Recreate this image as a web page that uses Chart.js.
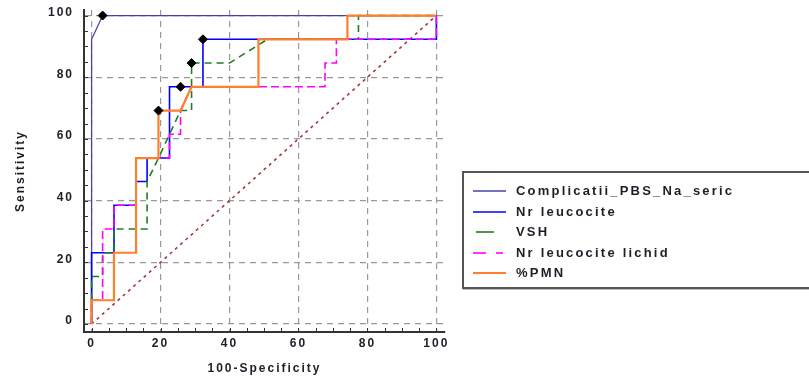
<!DOCTYPE html>
<html>
<head>
<meta charset="utf-8">
<script src="https://cdn.jsdelivr.net/npm/chart.js@4.4.0/dist/chart.umd.min.js"></script>
<style>
html,body{margin:0;padding:0;background:#fff;overflow:hidden}
#wrap{position:relative;width:809px;height:379px}
#c{position:absolute;left:0;top:0}
#legend{position:absolute;left:462px;top:171px;width:370px;height:118px;border:2px solid #555;box-sizing:border-box;box-shadow:1px 1px 0 #bbb;
  font:bold 13px "Liberation Sans",Arial,sans-serif;letter-spacing:2.2px;color:#1e1e28}
.item{position:absolute;left:0;width:100%;height:20px}
.item svg{position:absolute;left:9px;top:8px}
.item span{position:absolute;left:52px;top:1px;white-space:nowrap;line-height:18px}
</style>
</head>
<body>
<div id="wrap">
<canvas id="c" width="809" height="379"></canvas>
<div id="legend"></div>
</div>
<script>
// ---- data (x = 100-Specificity, y = Sensitivity) ----
const seriesNames = ["Complicatii_PBS_Na_seric", "Nr leucocite", "VSH", "Nr leucocite lichid", "%PMN"];

const complicatiiX = [0, 0, 3.2, 100];
const complicatiiY = [0, 92.3, 100, 100];

const leucociteX = [0, 0, 6.5, 6.5, 12.9, 12.9, 16.1, 16.1, 22.6, 22.6, 32.3, 32.3, 100, 100];
const leucociteY = [0, 23.1, 23.1, 38.5, 38.5, 46.2, 46.2, 53.8, 53.8, 76.9, 76.9, 92.3, 92.3, 100];

const vshX = [0, 0, 3.2, 3.2, 6.5, 6.5, 16.1, 16.1, 19.4, 22.6, 25.8, 29, 29, 40, 51, 77.4, 77.4, 100];
const vshY = [0, 15.4, 15.4, 23.1, 23.1, 30.8, 30.8, 46.2, 53.8, 61.5, 69.2, 69.2, 84.6, 84.6, 92.3, 92.3, 100, 100];

const lichidX = [0, 0, 3.2, 3.2, 6.5, 6.5, 12.9, 12.9, 22.6, 22.6, 25.8, 25.8, 29, 67.7, 67.7, 71, 71, 100, 100];
const lichidY = [0, 7.7, 7.7, 30.8, 30.8, 38.5, 38.5, 53.8, 53.8, 61.5, 61.5, 69.2, 76.9, 76.9, 84.6, 84.6, 92.3, 92.3, 100];

const pmnX = [0, 0, 6.5, 6.5, 12.9, 12.9, 19.4, 19.4, 25.8, 29, 48.4, 48.4, 74.2, 74.2, 100];
const pmnY = [0, 7.7, 7.7, 23.1, 23.1, 53.8, 53.8, 69.2, 69.2, 76.9, 76.9, 92.3, 92.3, 100, 100];

const criterionX = [3.2, 32.3, 29, 25.8, 19.4];
const criterionY = [100, 92.3, 84.6, 76.9, 69.2];

const diagonalX = [0, 100];
const diagonalY = [0, 100];

const majorTicks = [0, 20, 40, 60, 80, 100];
const minorTicks = [0, 5, 10, 15, 20, 25, 30, 35, 40, 45, 50, 55, 60, 65, 70, 75, 80, 85, 90, 95, 100];

// ---- styles ----
const colors = ["#4444aa", "#0000ff", "#1f7f1f", "#ff00ff", "#ff7f2a"];
const widths = [1.3, 1.6, 1.6, 1.6, 2.2];
const dashes = [[], [], [7, 5], [8, 4], []];
const FONT = '"Liberation Sans", Arial, sans-serif';
const TEXT = '#1e1e28';

const pts = (xs, ys) => xs.map((x, i) => ({x: x, y: ys[i]}));
const seriesXY = [[complicatiiX, complicatiiY], [leucociteX, leucociteY], [vshX, vshY], [lichidX, lichidY], [pmnX, pmnY]];

const datasets = [];
datasets.push({label: 'diag', data: pts(diagonalX, diagonalY), showLine: true, borderColor: '#a03a3a',
  borderWidth: 1.6, borderDash: [3, 4], pointRadius: 0, order: 10});
seriesXY.forEach((s, i) => {
  datasets.push({label: seriesNames[i], data: pts(s[0], s[1]), showLine: true, borderColor: colors[i],
    borderWidth: widths[i], borderDash: dashes[i], pointRadius: 0, tension: 0, order: 6 - i});
});
datasets.push({label: 'criterion', data: pts(criterionX, criterionY), showLine: false, pointStyle: 'rectRot',
  pointRadius: 4.5, backgroundColor: '#000', borderColor: '#000', borderWidth: 1, order: 0});

const styling = {
  id: 'styling',
  beforeUpdate(chart) { chart.ctx.letterSpacing = '2px'; },
  beforeDraw(chart) { chart.ctx.letterSpacing = '2px'; },
  afterDraw(chart) {
    const ctx = chart.ctx, xs = chart.scales.x, ys = chart.scales.y, ca = chart.chartArea;
    ctx.save();
    ctx.strokeStyle = '#333'; ctx.lineWidth = 1;
    ctx.beginPath();
    minorTicks.forEach(v => {
      const px = Math.round(xs.getPixelForValue(v)) + 0.5;
      ctx.moveTo(px, ca.bottom); ctx.lineTo(px, ca.bottom - 4);
      const py = Math.round(ys.getPixelForValue(v)) + 0.5;
      ctx.moveTo(ca.left, py); ctx.lineTo(ca.left + 4, py);
    });
    ctx.stroke();
    ctx.restore();
  }
};

const axisCommon = (title, isX) => ({
  type: 'linear',
  afterBuildTicks: s => { s.ticks = majorTicks.map(v => ({value: v})); },
  grid: {color: '#999', lineWidth: 1.2, drawTicks: false},
  border: {display: true, color: '#333', width: 2, dash: [6, 5]},
  ticks: {font: {family: FONT, size: 12, weight: 'bold'}, color: TEXT, autoSkip: false, maxRotation: 0,
    padding: isX ? 4 : 10, labelOffset: isX ? 0 : -3},
  title: {display: true, text: title, font: {family: FONT, size: 12, weight: 'bold'}, color: TEXT,
    padding: isX ? {top: 0, bottom: 3} : {top: 13, bottom: 0}}
});

const xAxis = Object.assign(axisCommon('100-Specificity', true), {min: -2.2, max: 102.5,
  afterFit: s => { s.height = 47; s.paddingLeft = 0; s.paddingRight = 0; }});
const yAxis = Object.assign(axisCommon('Sensitivity', false), {min: -2.6, max: 101.8,
  afterFit: s => { s.width = 84; s.paddingTop = 0; s.paddingBottom = 0; }});

new Chart(document.getElementById('c'), {
  type: 'scatter',
  data: {datasets: datasets},
  options: {
    responsive: false, animation: false, devicePixelRatio: 1,
    layout: {padding: {top: 10, right: 364, left: 0, bottom: 0}},
    plugins: {legend: {display: false}, tooltip: {enabled: false}},
    scales: {x: xAxis, y: yAxis}
  },
  plugins: [styling]
});

// ---- legend ----
const legend = document.getElementById('legend');
const rowTops = [8, 28.5, 49, 69.5, 90];
seriesNames.forEach((name, i) => {
  const d = document.createElement('div');
  d.className = 'item';
  d.style.top = rowTops[i] + 'px';
  let line;
  if (i === 2) line = '<line x1="3" y1="2" x2="21" y2="2"/>';
  else if (i === 3) line = '<line x1="0" y1="2" x2="13" y2="2"/><line x1="23" y1="2" x2="30" y2="2"/>';
  else line = '<line x1="0" y1="2" x2="33" y2="2"/>';
  d.innerHTML = '<svg width="34" height="4" stroke="' + colors[i] + '" stroke-width="' + widths[i] + '">' + line + '</svg><span></span>';
  d.querySelector('span').textContent = name;
  legend.appendChild(d);
});
</script>
</body>
</html>
